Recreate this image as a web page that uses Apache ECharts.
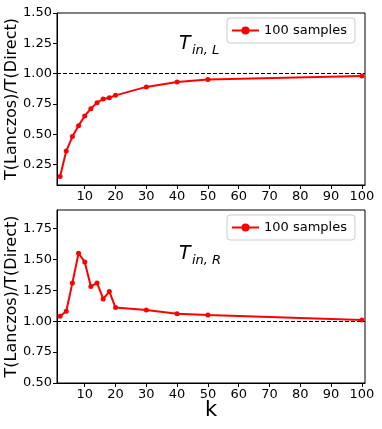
<!DOCTYPE html>
<html>
<head>
<meta charset="utf-8">
<script src="https://cdn.jsdelivr.net/npm/echarts@6/dist/echarts.min.js"></script>
<style>
  html, body { margin: 0; padding: 0; background: #fff; }
  #main { width: 382px; height: 429px; }
</style>
</head>
<body>
<div id="main"></div>
<script>
// k values (same for both panels)
var kValues = [2, 4, 6, 8, 10, 12, 14, 16, 18, 20, 30, 40, 50, 100];
// ratio T(Lanczos)/T(Direct), left preconditioner
var ratioL = [0.15, 0.36, 0.48, 0.57, 0.65, 0.71, 0.76, 0.79, 0.80, 0.82, 0.89, 0.93, 0.95, 0.98];
// ratio T(Lanczos)/T(Direct), right preconditioner
var ratioR = [1.04, 1.08, 1.31, 1.55, 1.48, 1.28, 1.31, 1.18, 1.24, 1.11, 1.09, 1.06, 1.05, 1.01];
var xTicks = [10, 20, 30, 40, 50, 60, 70, 80, 90, 100];
var yTicksTop = [0.25, 0.5, 0.75, 1.0, 1.25, 1.5];
var yTicksBottom = [0.5, 0.75, 1.0, 1.25, 1.5, 1.75];
var seriesName = '100 samples';

var FONT = 'DejaVu Sans';

function pairs(ys) {
  return kValues.map(function (k, i) { return [k, ys[i]]; });
}

function xAxisCfg(idx, withName) {
  return {
    type: 'value', gridIndex: idx, min: 1, max: 101,
    name: withName ? 'k' : '', nameLocation: 'middle', nameGap: 17, nameMoveOverlap: false,
    nameTextStyle: { fontFamily: FONT, fontSize: 21, color: '#000', verticalAlign: 'top' },
    axisLine: { show: true, lineStyle: { color: '#000', width: 1 } },
    axisTick: { show: true, length: 4, customValues: xTicks, lineStyle: { color: '#000' } },
    axisLabel: { customValues: xTicks, fontFamily: FONT, fontSize: 13, color: '#000', margin: 5 },
    splitLine: { show: false }
  };
}

function yAxisCfg(idx, min, max, ticks) {
  return {
    type: 'value', gridIndex: idx, min: min, max: max,
    name: 'T(Lanczos)/T(Direct)', nameLocation: 'middle', nameGap: 37, nameRotate: 90,
    nameMoveOverlap: false,
    nameTextStyle: { fontFamily: FONT, fontSize: 16, color: '#000' },
    axisLine: { show: true, lineStyle: { color: '#000', width: 1 } },
    axisTick: { show: true, length: 4, customValues: ticks, lineStyle: { color: '#000' } },
    axisLabel: {
      customValues: ticks, fontFamily: FONT, fontSize: 13, color: '#000', margin: 5,
      formatter: function (v) { return v.toFixed(2); }
    },
    splitLine: { show: false }
  };
}

function lineSeries(idx, ys) {
  return {
    name: seriesName, type: 'line', xAxisIndex: idx, yAxisIndex: idx,
    data: pairs(ys),
    symbol: 'circle', symbolSize: 5,
    lineStyle: { color: '#ff0000', width: 2 },
    itemStyle: { color: '#ff0000' },
    animation: false,
    markLine: {
      silent: true, symbol: 'none', label: { show: false },
      lineStyle: { color: '#000', type: [4, 2], width: 1 },
      data: [{ yAxis: 1.0 }]
    }
  };
}

function legendCfg(top) {
  return {
    left: 227, top: top, width: 131,
    data: [seriesName],
    itemWidth: 27, itemHeight: 10,
    padding: [6, 8, 6, 4],
    borderColor: '#cccccc', borderWidth: 1, borderRadius: 3,
    textStyle: { fontFamily: FONT, fontSize: 13, color: '#000' }
  };
}

var chart = echarts.init(document.getElementById('main'));
chart.setOption({
  animation: false,
  grid: [
    { left: 57, top: 13, width: 308, height: 172, show: true, borderColor: '#000', borderWidth: 1, outerBoundsMode: 'none' },
    { left: 57, top: 210, width: 308, height: 173, show: true, borderColor: '#000', borderWidth: 1, outerBoundsMode: 'none' }
  ],
  xAxis: [xAxisCfg(0, false), xAxisCfg(1, true)],
  yAxis: [yAxisCfg(0, 0.08, 1.5, yTicksTop), yAxisCfg(1, 0.5, 1.9, yTicksBottom)],
  legend: [legendCfg(18), legendCfg(215)],
  series: [lineSeries(0, ratioL), lineSeries(1, ratioR)],
  graphic: [
    { type: 'text', left: 179, top: 35, style: { text: 'T', font: 'italic 19px "DejaVu Sans"', fill: '#000' } },
    { type: 'text', left: 192, top: 44, style: { text: 'in, L', font: 'italic 13px "DejaVu Sans"', fill: '#000' } },
    { type: 'text', left: 179, top: 245, style: { text: 'T', font: 'italic 19px "DejaVu Sans"', fill: '#000' } },
    { type: 'text', left: 192, top: 254, style: { text: 'in, R', font: 'italic 13px "DejaVu Sans"', fill: '#000' } }
  ]
});
</script>
</body>
</html>
